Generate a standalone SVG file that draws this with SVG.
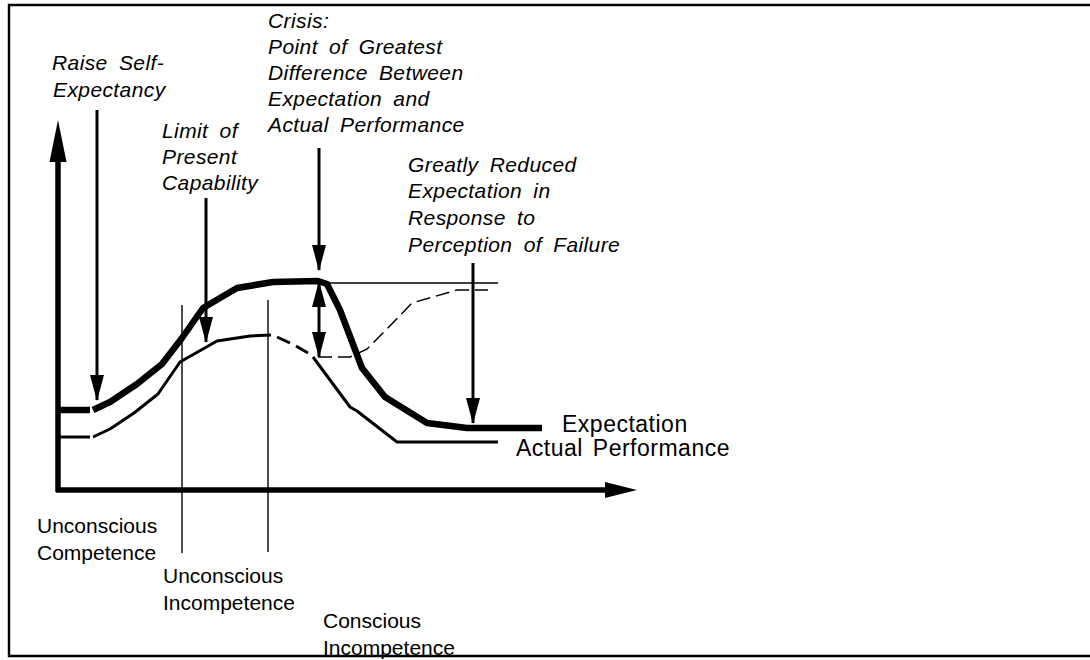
<svg xmlns="http://www.w3.org/2000/svg" width="1090" height="660" viewBox="0 0 1090 660">
  <style>
    .lbl { font-family: "Liberation Sans", Arial, sans-serif; font-size: 21px; fill: #000; }
    .it { font-style: italic; letter-spacing: 0.4px; word-spacing: 5px; }
    .big { font-size: 23px; letter-spacing: 0.5px; word-spacing: 3px; }
    .ink { fill: none; stroke: #000; stroke-linejoin: round; }
    .expect { stroke-width: 6.5; }
    .actual { stroke-width: 3; }
    .thin { stroke-width: 1.6; }
    .guide { stroke-width: 1.4; }
    .pointer { stroke-width: 3; marker-end: url(#head); }
    .dash { stroke-width: 1.5; stroke-dasharray: 14 6; }
  </style>
  <defs>
    <marker id="head" markerUnits="userSpaceOnUse" markerWidth="30" markerHeight="16" refX="25" refY="7" orient="auto-start-reverse">
      <path d="M0,0 L26,7 L0,14 Z" fill="#000"/>
    </marker>
  </defs>

  <rect width="1090" height="660" fill="#fff"/>

  <!-- axes -->
  <g id="axes">
    <line x1="58" y1="160" x2="58" y2="492" stroke="#000" stroke-width="5.5"/>
    <polygon points="49.5,162 58,120 66.5,162" fill="#000"/>
    <line x1="56" y1="490" x2="607" y2="490" stroke="#000" stroke-width="5.5"/>
    <polygon points="605,482 637,490 605,498" fill="#000"/>
  </g>

  <!-- phase boundaries -->
  <g id="phase-lines">
    <line class="ink guide" x1="182" y1="305" x2="182" y2="553"/>
    <line class="ink guide" x1="268" y1="300" x2="268" y2="552"/>
  </g>

  <!-- expectation curve (thick) -->
  <g id="expectation">
    <line class="ink expect" x1="58" y1="410" x2="90" y2="410"/>
    <polyline class="ink expect" points="93,410 110,402 137,384 162,364 182,338 203,308 237,288 273,282 318,281 327,284 340,310 362,368 385,397 427,423 467,428 542,428"/>
  </g>

  <!-- actual performance curve -->
  <g id="actual">
    <line class="ink actual" x1="58" y1="437" x2="90" y2="437"/>
    <polyline class="ink actual" points="93,437 110,429 134,413 158,394 180,362 217,341 250,336 271,335"/>
    <line class="ink actual" x1="277" y1="337" x2="290" y2="343"/>
    <line class="ink actual" x1="296" y1="346" x2="308" y2="353"/>
    <polyline class="ink actual" points="313,357 350,407 357,411 397,442 498,442"/>
  </g>

  <!-- original expectation level and recovery path -->
  <g id="reference-levels">
    <line class="ink thin" x1="318" y1="283" x2="498" y2="283"/>
    <polyline class="ink dash" points="318,357 350,357 367,349 387,329 412,303 457,290 488,290"/>
  </g>

  <!-- pointers -->
  <g id="connectors">
    <line class="ink pointer" x1="97" y1="110" x2="97" y2="400"/>
    <line class="ink pointer" x1="206" y1="198" x2="206" y2="342"/>
    <line class="ink pointer" x1="319" y1="148" x2="319" y2="270"/>
    <line class="ink pointer" x1="319" y1="282" x2="319" y2="357" marker-start="url(#head)"/>
    <line class="ink pointer" x1="473" y1="263" x2="473" y2="423"/>
  </g>

  <!-- annotations -->
  <g id="label-raise">
    <text class="lbl it" x="52" y="70">Raise Self-</text>
    <text class="lbl it" x="53" y="97">Expectancy</text>
  </g>
  <g id="label-limit">
    <text class="lbl it" x="162" y="138">Limit of</text>
    <text class="lbl it" x="162" y="164">Present</text>
    <text class="lbl it" x="162" y="190">Capability</text>
  </g>
  <g id="label-crisis">
    <text class="lbl it" x="268" y="28">Crisis:</text>
    <text class="lbl it" x="268" y="54">Point of Greatest</text>
    <text class="lbl it" x="268" y="80">Difference Between</text>
    <text class="lbl it" x="268" y="106">Expectation and</text>
    <text class="lbl it" x="268" y="132">Actual Performance</text>
  </g>
  <g id="label-reduced">
    <text class="lbl it" x="408" y="172">Greatly Reduced</text>
    <text class="lbl it" x="408" y="198">Expectation in</text>
    <text class="lbl it" x="408" y="225">Response to</text>
    <text class="lbl it" x="408" y="252">Perception of Failure</text>
  </g>
  <g id="legend">
    <text class="lbl big" x="562" y="432">Expectation</text>
    <text class="lbl big" x="516" y="456">Actual Performance</text>
  </g>
  <g id="phase-labels">
    <text class="lbl" x="37" y="533">Unconscious</text>
    <text class="lbl" x="37" y="560">Competence</text>
    <text class="lbl" x="163" y="583">Unconscious</text>
    <text class="lbl" x="163" y="610">Incompetence</text>
    <text class="lbl" x="323" y="628">Conscious</text>
    <text class="lbl" x="323" y="655">Incompetence</text>
  </g>

  <!-- frame -->
  <path d="M1090,5 H9 V656 H1090" fill="none" stroke="#000" stroke-width="2.4"/>
</svg>
